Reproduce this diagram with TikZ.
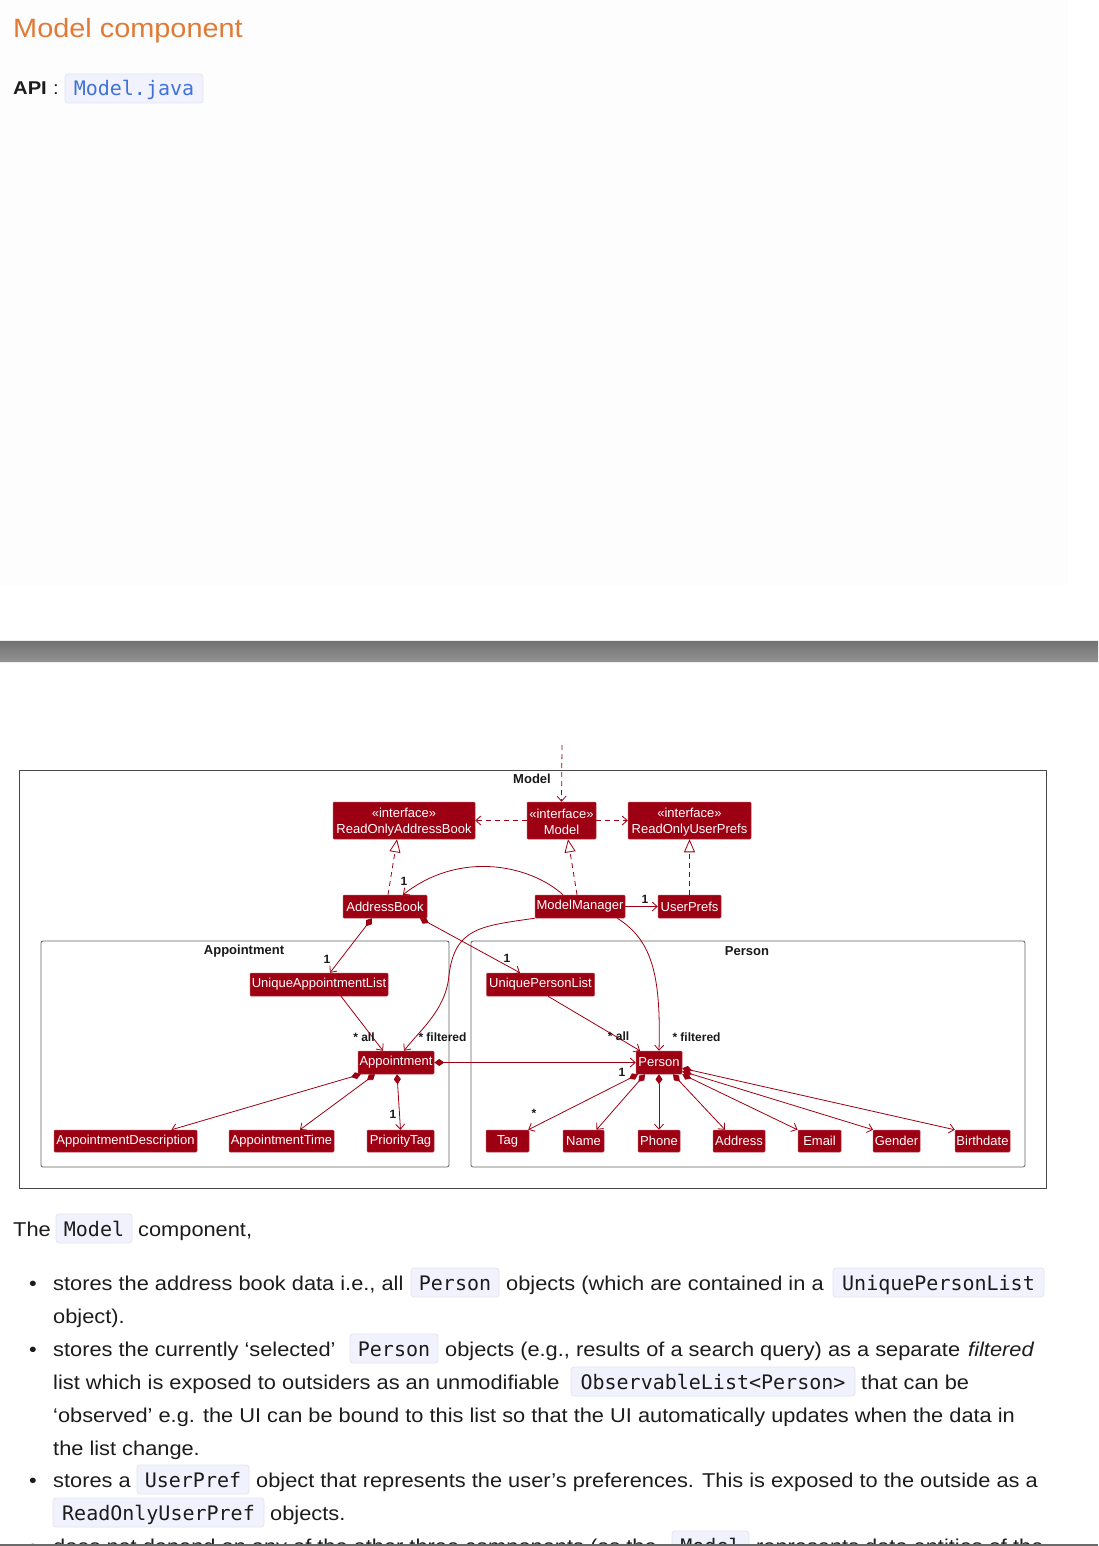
\documentclass[tikz,border=0pt]{standalone}
\usepackage{fontspec}
\setmainfont{Liberation Sans}[FakeStretch=1.09]
\newfontfamily\dfont{Liberation Sans}
\newfontfamily\codefont{DejaVu Sans Mono}
\usetikzlibrary{arrows.meta,calc}
\definecolor{mred}{HTML}{9D0012}
\definecolor{titleor}{HTML}{E07A36}
\definecolor{codebg}{HTML}{F1F2FD}
\definecolor{codebd}{HTML}{E3E5F1}
\definecolor{linkblue}{HTML}{3F72D8}
\definecolor{txt}{HTML}{1C1C1C}
\newcommand\cbox[5]{%
  \path[fill=codebg, draw=codebd, line width=0.8pt, rounded corners=3pt] (#2,{#4-22}) rectangle (#3,{#4+7});
  \node[code] (#1) at ({(#2+#3)/2},#4) {#5};}
\newcommand\bul[2]{\node[body, anchor=base] (#1) at (33,#2) {•};}
\begin{document}
\begin{tikzpicture}[x=1pt,y=-1pt,
  cls/.style={fill=mred, draw=mred!75!white, line width=0.5pt, text=white,
    font=\dfont\fontsize{13}{16}\selectfont, inner sep=0pt, rounded corners=1pt, align=center},
  pkg/.style={draw=black!62, line width=0.8pt, rounded corners=2pt},
  pkglbl/.style={font=\dfont\bfseries\fontsize{13}{13}\selectfont, text=black!90, inner sep=0pt},
  mult/.style={font=\dfont\bfseries\fontsize{12}{12}\selectfont, text=black!90, inner sep=0pt},
  mline/.style={draw=mred, line width=0.8pt},
  assoc/.style={mline, -{Straight Barb[length=5pt,width=9pt]}},
  comp/.style={mline, {Diamond[length=10pt,width=7pt]}-{Straight Barb[length=5pt,width=9pt]}},
  dep/.style={mline, dash pattern=on 5pt off 4pt, -{Straight Barb[length=5pt,width=9pt]}},
  real/.style={mline, dash pattern=on 5pt off 4pt, -{Triangle[open,length=13pt,width=11pt]}},
  body/.style={font=\fontsize{20}{24}\selectfont, text=txt, inner sep=0pt, anchor=base west},
  code/.style={font=\codefont\fontsize{20}{24}\selectfont, text=txt, inner sep=0pt, anchor=base}]
\useasboundingbox (0,0) rectangle (1098,1546);
\clip (0,0) rectangle (1098,1546);
\fill[white] (0,0) rectangle (1098,1546);
\fill[black!0.8] (0,0) rectangle (1068,585);
% header
\node[anchor=base west, font=\fontsize{26.5}{30}\selectfont, text=titleor, inner sep=0pt] (title) at (13,37.5) {Model component};
\node[anchor=base west, font=\bfseries\fontsize{18.5}{20}\selectfont, text=txt, inner sep=0pt] (api) at (13,95) {API};
\node[anchor=base west, font=\fontsize{18.5}{20}\selectfont, text=txt, inner sep=0pt] (colon) at (53,95) {:};
\path[fill=codebg, draw=codebd, line width=0.8pt, rounded corners=3pt] (65,74) rectangle (203,103);
\node[code, text=linkblue] (apicode) at (134,95.5) {Model.java};
% gray bar
\fill[black!7] (0,639.5) rectangle (1098,663);
\shade[top color=black!55, bottom color=black!43] (0,641.5) rectangle (1098,661);
% diagram frames
\draw[draw=black!72, line width=0.8pt] (19,770) rectangle (1046,1188);
\node[pkglbl] (modellbl) at (532,779) {Model};
\draw[pkg] (41,941) rectangle (449,1167);
\node[pkglbl] (appointlbl) at (244,951) {Appointment};
\draw[pkg] (471,941) rectangle (1025,1167);
\node[pkglbl] (personlbl) at (747,951) {Person};
% classes
\node[cls, minimum width=142, minimum height=37] (roab) at (404,820.5) {};
\node[cls, minimum width=69, minimum height=37] (model) at (561.5,820.5) {};
\node[cls, minimum width=123, minimum height=37] (roup) at (689.5,820.5) {};
\node[cls, fill=none, draw=none] (roabt) at (404,822) {«interface»\\ReadOnlyAddressBook};
\node[cls, fill=none, draw=none] (modelt) at (561.5,822) {«interface»\\Model};
\node[cls, fill=none, draw=none] (roupt) at (689.5,822) {«interface»\\ReadOnlyUserPrefs};
\node[cls, minimum width=84, minimum height=23] (ab) at (385,906.5) {AddressBook};
\node[cls, minimum width=90, minimum height=23] (mm) at (580,906.5) {ModelManager};
\node[cls, minimum width=63, minimum height=23] (up) at (689.5,906.5) {UserPrefs};
\node[cls, minimum width=138, minimum height=23] (ual) at (319,984.5) {UniqueAppointmentList};
\node[cls, minimum width=108, minimum height=23] (upl) at (540.5,984.5) {UniquePersonList};
\node[cls, minimum width=76, minimum height=23] (appt) at (396,1062.5) {Appointment};
\node[cls, minimum width=46, minimum height=23] (person) at (659,1062.5) {Person};
\node[cls, minimum width=143, minimum height=22] (adesc) at (125.5,1141) {AppointmentDescription};
\node[cls, minimum width=105, minimum height=22] (atime) at (281.5,1141) {AppointmentTime};
\node[cls, minimum width=67, minimum height=22] (ptag) at (400.5,1141) {PriorityTag};
\node[cls, minimum width=43, minimum height=22] (tag) at (507.5,1141) {Tag};
\node[cls, minimum width=41, minimum height=22] (name) at (583.5,1141) {Name};
\node[cls, minimum width=42, minimum height=22] (phone) at (659,1141) {Phone};
\node[cls, minimum width=52, minimum height=22] (address) at (739,1141) {Address};
\node[cls, minimum width=43, minimum height=22] (email) at (819.5,1141) {Email};
\node[cls, minimum width=47, minimum height=22] (gender) at (896.5,1141) {Gender};
\node[cls, minimum width=55, minimum height=22] (birth) at (982.5,1141) {Birthdate};
% connectors
\coordinate (ext) at (562,745);
\draw[dep] (ext) -- (model.north);
\draw[dep] (model.west) -- (roab.east);
\draw[dep] (model.east) -- (roup.west);
\draw[real] ([xshift=3pt]ab.north) -- ([xshift=-7pt]roab.south);
\draw[real] ([xshift=-3pt]mm.north) -- ([xshift=6.5pt]model.south);
\draw[real] (up.north) -- (roup.south);
\draw[assoc] ([xshift=-17pt]mm.north) .. controls (530,865) and (460,850) .. ([xshift=18pt]ab.north);
\node[mult] (m1) at (404,881) {1};
\draw[assoc] (mm.east) -- (up.west);
\node[mult] (m2) at (645,899) {1};
\draw[comp] ([xshift=-13pt]ab.south) -- ([xshift=11pt]ual.north);
\node[mult] (m3) at (327,959) {1};
\draw[comp] ([xshift=35pt]ab.south) -- ([xshift=-20.5pt]upl.north);
\node[mult] (m4) at (507,958) {1};
\draw[assoc] (mm.south west) .. controls (480,926) and (455,928) .. (449,975) .. controls (446,1010) and (420,1030) .. ([xshift=8pt]appt.north);
\node[mult] (m5) at (442.5,1037) {* filtered};
\draw[assoc] ([xshift=-8pt]mm.south east) .. controls (652,940) and (661,975) .. (person.north);
\node[mult] (m6) at (696.5,1037) {* filtered};
\draw[assoc] ([xshift=22pt]ual.south) -- ([xshift=-13pt]appt.north);
\node[mult] (m7) at (364,1037) {* all};
\draw[assoc] ([xshift=7.5pt]upl.south) -- ([xshift=-19pt]person.north);
\node[mult] (m8) at (618.5,1036) {* all};
\draw[comp] (appt.east) -- (person.west);
\node[mult] (m9) at (622,1072) {1};
\draw[comp] ([xshift=3pt]appt.south west) -- ([xshift=46pt]adesc.north);
\draw[comp] ([xshift=-21pt]appt.south) -- ([xshift=18.5pt]atime.north);
\draw[comp] ([xshift=1pt]appt.south) -- (ptag.north);
\node[mult] (m10) at (393,1114) {1};
\draw[comp] ([xshift=-21pt]person.south) -- ([xshift=-1pt]tag.north east);
\node[mult] (m11) at (534,1113) {*};
\draw[comp] ([xshift=-14pt]person.south) -- ([xshift=13pt]name.north);
\draw[comp] (person.south) -- (phone.north);
\draw[comp] ([xshift=14pt]person.south) -- ([xshift=-14pt]address.north);
\draw[comp] (person.south east) -- ([xshift=-22pt]email.north);
\draw[comp] ([yshift=3pt]person.south east) -- ([xshift=-23.5pt]gender.north);
\draw[comp] ([yshift=6pt]person.south east) -- (birth.north west);
% prose
\node[body] (t0a) at (13,1236) {The};
\cbox{t0b}{56}{132}{1236}{Model}
\node[body] (t0c) at (138,1236) {component,};
\bul{b1}{1290}
\node[body] (t1a) at (53,1290) {stores the address book data i.e., all};
\cbox{t1b}{411}{499}{1290}{Person}
\node[body] (t1c) at (506,1290) {objects (which are contained in a};
\cbox{t1d}{833}{1044}{1290}{UniquePersonList}
\node[body] (t2a) at (53,1323) {object).};
\bul{b2}{1356}
\node[body] (t3a) at (53,1356) {stores the currently ‘selected’};
\cbox{t3b}{350}{438}{1356}{Person}
\node[body] (t3c) at (445,1356) {objects (e.g., results of a search query) as a separate};
\node[body] (t3d) at (968,1356) {\itshape filtered};
\node[body] (t4a) at (53,1389) {list which is exposed to outsiders as an unmodifiable};
\cbox{t4b}{571}{855}{1389}{ObservableList<Person>}
\node[body] (t4c) at (861,1389) {that can be};
\node[body] (t5a) at (53,1422) {‘observed’ e.g. the UI can be bound to this list so that the UI automatically updates when the data in};
\node[body] (t6a) at (53,1455) {the list change.};
\bul{b3}{1487}
\node[body] (t7a) at (53,1487) {stores a};
\cbox{t7b}{137}{249}{1487}{UserPref}
\node[body] (t7c) at (256,1487) {object that represents the user’s preferences. This is exposed to the outside as a};
\cbox{t8a}{53}{264}{1520}{ReadOnlyUserPref}
\node[body] (t8b) at (270,1520) {objects.};
\bul{b4}{1553}
\node[body] (t9a) at (53,1553) {does not depend on any of the other three components (as the};
\cbox{t9b}{672}{749}{1553}{Model}
\node[body] (t9c) at (756,1553) {represents data entities of the};
\fill[black!58] (0,1543.5) rectangle (1098,1546);
\end{tikzpicture}
\end{document}
